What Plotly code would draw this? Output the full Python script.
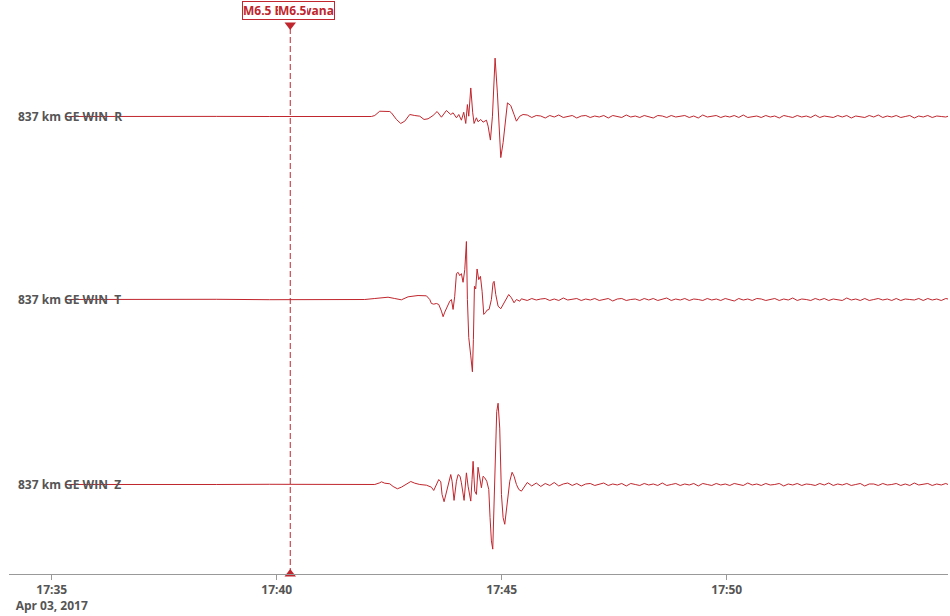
import pandas as pd
import plotly.graph_objects as go

# ---------------- data ----------------
DAY_START = pd.Timestamp("2017-04-03 17:35:00")   # seconds below are measured from 17:35:00
ORIGIN_TIME = "2017-04-03 17:40:18"
EVENT_LABEL = "M6.5 Botswana"
EVENT_SHORT = "M6.5"

channel_labels = ["837 km GE WIN\u00a0 R", "837 km GE WIN\u00a0 T", "837 km GE WIN\u00a0 Z"]

tick_vals = ["2017-04-03 17:35", "2017-04-03 17:40", "2017-04-03 17:45", "2017-04-03 17:50"]
tick_text = ["17:35<br>Apr 03, 2017", "17:40", "17:45", "17:50"]

# pre-event (quiet) part, common sample times
pre_sec = [18, 80, 150, 220, 290, 350, 400]
r_pre = [0, 0.2, -0.2, 0.1, 0, -0.2, 0]
t_pre = [0, 0.2, -0.1, 0.2, -0.2, 0.1, 0]
z_pre = [0, -0.2, 0.2, 0, 0.2, -0.1, 0]

# main arrival part
r_sec = [417.3, 426.2, 430.7, 437.3, 450.7, 452.9, 459.6, 465.3, 470.7, 477.3, 484.0, 490.7,
         496.4, 501.8, 508.4, 513.8, 519.6, 526.2, 532.0, 535.1, 539.6, 542.7, 546.2, 549.3,
         552.0, 554.2, 556.0, 558.7, 561.3, 563.1, 566.2, 568.4, 572.0, 575.1, 579.6, 581.8,
         584.9, 587.6, 591.1, 594.2, 598.7, 601.8, 607.6, 612.0, 616.4, 619.6, 624.0, 628.4]
r_amp = [0, 0, 1, 5.3, 5, 3.7, -3, -7, -4.7, 2, 1, 0.3,
         -3, -2.3, 1, 5, -0.7, 6, 2, 3.7, -1.3, 2, -3.7, 4.3,
         -7, 12, 0.3, 28.7, 3.7, -7, -1.3, -5.3, -3, -5.7, -3.7, -9.7,
         -23.7, 0.3, 58.7, 23.7, -41.3, -26.3, 13.7, 11, 2, -4.7, 0.3, 2]

t_sec = [417.3, 430.7, 448.4, 457.3, 466.2, 475.1, 488.4, 499.6, 504.0, 506.2, 509.3, 512.9,
         516.0, 519.6, 521.8, 524.0, 527.6, 530.7, 532.9, 535.1, 537.3, 539.6, 541.8, 544.0,
         546.2, 548.4, 550.7, 552.9, 554.2, 556.0, 558.7, 560.9, 562.2, 563.6, 565.3, 567.1,
         569.3, 571.6, 573.8, 576.0, 578.2, 580.4, 583.1, 586.2, 588.4, 589.8, 592.0, 595.1,
         598.7, 601.8, 606.2, 609.3, 612.9, 616.4, 619.6, 624.0, 626.2, 630.7]
t_amp = [0, 1, 2.3, 1, -0.3, 2.7, 4, 3.7, 0, -4, -4.7, -4,
         -5, -11.7, -17.3, -12.7, -6, -1.7, 0, -10, 3.3, 26, 27.3, 24,
         26, 17.3, 30, 58.3, 0, -38.3, -56.7, -72.7, -40, 13.3, 10.7, 30.7,
         20, 23.3, 8.3, -15, -13.3, -10.7, -10, 0, 16.7, 18.3, 5, -6.7,
         -9.3, -5, 0, 5, 1.7, -3.3, 0, -1.7, 0.7, 0]

z_sec = [417.3, 430.7, 437.3, 439.6, 444.0, 450.7, 455.1, 460.9, 466.2, 472.9, 478.7, 484.0,
         490.7, 499.6, 506.2, 509.3, 512.9, 516.0, 518.7, 520.4, 523.1, 526.2, 529.3, 532.0,
         533.8, 536.4, 539.6, 541.8, 544.4, 546.2, 549.8, 551.6, 552.9, 555.1, 558.7, 560.4,
         561.8, 564.0, 566.2, 568.4, 570.7, 572.9, 575.1, 577.3, 580.0, 582.7, 584.4, 586.2,
         588.0, 589.8, 591.6, 593.3, 595.1, 597.3, 599.6, 601.8, 604.0, 607.6, 610.7, 613.8,
         616.4, 619.6, 622.7, 626.2, 628.9, 630.7]
z_amp = [0, 0, 1.7, 2.7, 1.3, 0.7, -2, -4.3, -2.7, 0.7, 3, 1.3,
         0, -0.7, -2.7, -6, 0.7, 5, 2.7, -10, -17.3, -6.7, 4, 10,
         3.3, -16, 3.3, 10, 8.3, 1.7, -16, 5, 11.7, -1.7, -16.7, 5,
         23.3, -6.7, -10, 17.3, 5, -3.3, 8.3, 6.7, 3.3, -5, -33.3, -56.7,
         -65, -10, 50, 73.3, 81.7, 56.7, -10, -33.3, -40, -16.7, 3.3, 12.3,
         8.3, 0, -5, -6.7, -4, -1.7]

# coda (after the main arrivals), sampled every CODA_STEP seconds from CODA_START
CODA_START = 634
CODA_STEP = 6
r_coda = [1.5, -1, 1, 0.5, -1.5, 1, -0.5, 1.5, -1, 0, 1, -1.5, 0.5, 1, -1, 0.5, -0.5, 1, -1.5, 1,
          0, -1, 1.5, -0.5, 0.5, -1, 1, 0, -1.5, 1, 0.5, -1, 1, -0.5, 0, 1, -1, 0.5, -1.5, 1.5,
          -0.5, 0, 1, -1, 0.5, -0.5, 1, -1, 1.5, -1, 0, 0.5, -1, 1, -0.5, 0.5, -1.5, 1, 0, -1,
          1, -0.5, 0.5, -1, 1.5, -1, 0.5, 0, -1, 1, -0.5, 1, -1.5, 0.5, 0, -1, 1, -0.5, 1.5, -1,
          0.5, -0.5, 1, -1, 0, 1, -1.5, 0.5, -0.5, 1, -1, 0.5, 0, -0.5, 1, -1, 0.5, -1, 1, 0]
t_coda = [-1, 1, -0.5, 0.5, 1, -1, 0.5, -1, 1.5, -0.5, 0, 1, -1, 0.5, -0.5, 1, -1, 0, 1, -1.5,
          0.5, 1, -1, 0, 0.5, -1, 1, -0.5, 1, -1, 0, 1.5, -1, 0.5, -0.5, 1, -1, 0.5, 0, -1,
          1, -0.5, 0.5, -1, 1, 0, -1.5, 1, -0.5, 0.5, -1, 1, 0.5, -1, 0, 1, -1, 0.5, -0.5, 1.5,
          -1, 0.5, 0, -1, 1, -0.5, 1, -1, 0.5, 0, -1, 1.5, -0.5, 0.5, -1, 1, -1, 0, 1, -0.5,
          0.5, -1, 1, -1, 0.5, 0, -0.5, 1, -1, 1, -0.5, 0.5, -1, 1, 0, -1, 1, -0.5, 0.5, 0]
z_coda = [2, -1.5, 1.5, -2, 1, -1, 2, -1.5, 0.5, 1.5, -1, 1, -1.5, 0.5, 1, -1, 0, 1.5, -1, 0.5,
          -0.5, 1, -1.5, 1, 0, -1, 1, -0.5, 0.5, -1, 1.5, -1, 0, 1, -1, 0.5, -0.5, 1, -1.5, 1,
          0, -1, 1, -0.5, 0.5, -1, 1, 0, -1, 1.5, -0.5, 0.5, -1, 1, -0.5, 0, 1, -1.5, 0.5, -0.5,
          1, -1, 0.5, 0, -1, 1, -0.5, 1.5, -1, 0.5, -0.5, 1, -1, 0, 1, -1.5, 0.5, 0.5, -1, 1,
          -0.5, 0, 1, -1, 0.5, -1, 1.5, -0.5, 0, 1, -1, 0.5, -0.5, 1, -1, 0.5, 0, -1, 1, 0]

# ---------------- figure ----------------
LINE_COLOR = "#c0262d"
TEXT_COLOR = "#555555"
FONT = "Open Sans, Noto Sans, sans-serif"
Y_HALF = 92


def build(pre, sec, amp, coda):
    coda_sec = [CODA_START + CODA_STEP * i for i in range(len(coda))]
    s = list(pre_sec) + list(sec) + coda_sec
    a = [float(v) for v in list(pre) + list(amp) + list(coda)]
    times = [(DAY_START + pd.Timedelta(seconds=float(v))).strftime("%Y-%m-%d %H:%M:%S.%f")[:-3]
             for v in s]
    return times, a


series = [
    build(r_pre, r_sec, r_amp, r_coda),
    build(t_pre, t_sec, t_amp, t_coda),
    build(z_pre, z_sec, z_amp, z_coda),
]
axes = ["y", "y2", "y3"]

fig = go.Figure()
for (xs, ys), ax in zip(series, axes):
    fig.add_trace(go.Scatter(x=xs, y=ys, yaxis=ax, xaxis="x", mode="lines",
                             line=dict(color=LINE_COLOR, width=1),
                             hoverinfo="skip", showlegend=False))

# event markers (triangles) at the top and bottom of the plot
fig.add_trace(go.Scatter(x=[ORIGIN_TIME], y=[Y_HALF], yaxis="y", xaxis="x", mode="markers",
                         marker=dict(symbol="triangle-down", size=10, color=LINE_COLOR),
                         cliponaxis=False, hoverinfo="skip", showlegend=False))
fig.add_trace(go.Scatter(x=[ORIGIN_TIME], y=[-90], yaxis="y3", xaxis="x", mode="markers",
                         marker=dict(symbol="triangle-up", size=10, color=LINE_COLOR),
                         cliponaxis=False, hoverinfo="skip", showlegend=False))

fig.add_shape(type="line", xref="x", yref="paper", x0=ORIGIN_TIME, x1=ORIGIN_TIME, y0=0, y1=1,
              line=dict(color=LINE_COLOR, width=1, dash="6px,3px"))

fig.add_annotation(x=ORIGIN_TIME, xref="x", y=1, yref="paper", yanchor="bottom", yshift=5,
                   xshift=-2,
                   text=f"<b>{EVENT_LABEL}</b>", showarrow=False, bgcolor="white",
                   bordercolor=LINE_COLOR, borderwidth=1, borderpad=0,
                   font=dict(family=FONT, size=12, color=LINE_COLOR))
fig.add_annotation(x=ORIGIN_TIME, xref="x", y=1, yref="paper", yanchor="bottom", yshift=6,
                   xanchor="left", xshift=-12,
                   text=f"<b>{EVENT_SHORT}</b>", showarrow=False, bgcolor="white",
                   borderwidth=0, borderpad=0,
                   font=dict(family=FONT, size=12, color=LINE_COLOR))

for lab, ax in zip(channel_labels, axes):
    fig.add_annotation(x=0, xref="paper", xanchor="left", xshift=7, y=0, yref=ax,
                       text=f"<b>{lab}</b>", showarrow=False,
                       font=dict(family=FONT, size=12, color=TEXT_COLOR))

fig.update_layout(
    width=950, height=616,
    margin=dict(l=9, r=2, t=25, b=40),
    paper_bgcolor="white", plot_bgcolor="white",
    font=dict(family=FONT, size=12, color=TEXT_COLOR),
    showlegend=False,
    xaxis=dict(type="date", anchor="y3",
               range=["2017-04-03 17:34:03", "2017-04-03 17:54:55"],
               tickmode="array", tickvals=tick_vals,
               ticktext=[f"<b>{t}</b>" for t in tick_text],
               showgrid=False, zeroline=False,
               showline=True, linecolor="#999999", linewidth=1,
               ticks="outside", ticklen=5, tickcolor="#999999",
               tickfont=dict(family=FONT, size=12, color=TEXT_COLOR)),
    yaxis=dict(domain=[2 / 3, 1], range=[-Y_HALF, Y_HALF], visible=False, anchor="x"),
    yaxis2=dict(domain=[1 / 3, 2 / 3], range=[-Y_HALF, Y_HALF], visible=False, anchor="x"),
    yaxis3=dict(domain=[0, 1 / 3], range=[-90, 94], visible=False, anchor="x"),
)

fig.write_html("out.html", config={"displayModeBar": False},
               post_script="document.body.style.margin='0px';")
